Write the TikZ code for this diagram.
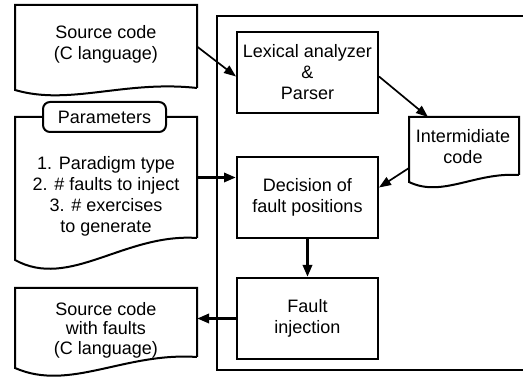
\documentclass[tikz,border=0pt]{standalone}
\usepackage{fontspec}
\setmainfont{Liberation Sans}
\usetikzlibrary{arrows.meta, positioning, calc}

\tikzset{
  procbox/.style={draw, line width=2pt, minimum width=141pt, minimum height=81pt, align=center, inner sep=0pt},
  docarea/.style={inner sep=0pt, outer sep=0pt},
  doctext/.style={align=center, inner sep=0pt},
  tagbox/.style={draw, fill=white, line width=2pt, rounded corners=7pt, minimum width=123pt, minimum height=30pt, inner sep=0pt},
  flow/.style={-{Triangle[length=12pt,width=9pt]}, line width=1.7pt},
  bigflow/.style={-{Triangle[length=12pt,width=9pt]}, line width=3pt}
}

% document outline: node, left drop, dip, rise
\newcommand{\docoutline}[4]{%
  \draw[line width=2pt] (#1.south east) -- (#1.north east) -- (#1.north west)
    -- ($(#1.south west)+(0,#2)$)
    .. controls ($(#1.south west)!0.3!(#1.south east)+(0,#2+#3)$)
    and ($(#1.south west)!0.6!(#1.south east)+(0,-#4)$) .. (#1.south east);
}

\begin{document}
\begin{tikzpicture}[x=1pt, y=-1pt, font=\fontsize{18}{21}\selectfont]
  \useasboundingbox (0,0) rectangle (523,379);

  % tool frame
  \draw[line width=2pt] (524,16) -| (217,370) -- (524,370);

  % input and output documents
  \node[docarea, minimum width=182pt, minimum height=83pt] (src) at (106,46.5) {};
  \docoutline{src}{2}{16}{8}
  \node[doctext] (srctxt) at (106,44) {Source code\\(C language)};

  \node[docarea, minimum width=182pt, minimum height=121pt] (par) at (106,177.5) {};
  \docoutline{par}{22}{30}{5}
  \node[tagbox] (partag) at (104.5,117) {Parameters};
  \node[doctext] (parlist) at (106,196) {1. Paradigm type\\2. \# faults to inject\\3. \# exercises\\to generate};

  \node[docarea, minimum width=182pt, minimum height=69pt] (out) at (106,322.5) {};
  \docoutline{out}{11}{24}{5}
  \node[doctext, font=\fontsize{18}{19.5}\selectfont] (outtxt) at (106,330) {Source code\\with faults\\(C language)};

  % processing steps
  \node[procbox] (lex) at (307.5,72.5) {Lexical analyzer\\\&\\Parser};
  \node[procbox] (dec) at (307.5,197.5) {Decision of\\fault positions};
  \node[procbox] (flt) at (307.5,318.5) {Fault\\injection};

  \node[docarea, minimum width=110pt, minimum height=58pt] (inter) at (464,146) {};
  \docoutline{inter}{7}{16}{3}
  \node[doctext] (intertxt) at (463,147) {Intermidiate\\code};

  % connectors
  \draw[flow] (src.east) -- ([yshift=-4pt]lex.west);
  \draw[flow] ([yshift=-4pt]lex.east) -- ([xshift=-36pt]inter.north);
  \draw[flow] ([yshift=7pt]inter.south west) -- ([yshift=10pt]dec.east);
  \draw[bigflow] (par.east) -- (par.east -| dec.west);
  \draw[bigflow] (dec.south) -- (flt.north);
  \draw[bigflow] (flt.west) -- (flt.west -| out.east);
\end{tikzpicture}
\end{document}
